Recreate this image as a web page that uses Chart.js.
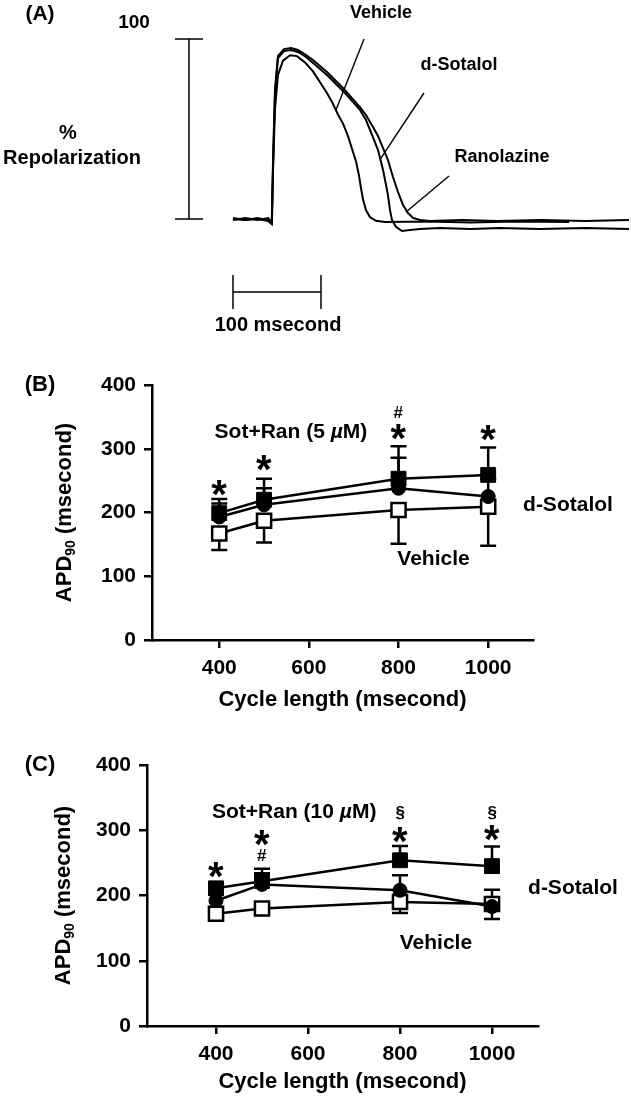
<!DOCTYPE html>
<html>
<head>
<meta charset="utf-8">
<script src="https://cdn.jsdelivr.net/npm/chart.js@4"></script>
<style>
  html, body { margin: 0; padding: 0; background: #fff; }
  #wrap { position: relative; width: 631px; height: 1100px; }
  canvas { position: absolute; left: 0; }
</style>
</head>
<body>
<div id="wrap">
  <canvas id="chart-a" width="631" height="345" style="top:0px;width:631px;height:345px"></canvas>
  <canvas id="chart-b" width="631" height="390" style="top:330px;width:631px;height:390px"></canvas>
  <canvas id="chart-c" width="631" height="380" style="top:720px;width:631px;height:380px"></canvas>
</div>
<script>
const FONT = '"Liberation Sans", Arial, Helvetica, sans-serif';

// (A) action potential traces: time (ms) and % repolarization
let vehicleTime = [0, 14, 28, 40, 44, 45.5, 47.7, 51.1, 56.8, 64.8, 72.7, 81.8, 90.9, 98.9, 106.8, 113.6, 119.3, 125, 130.7, 135.2, 139.8, 143.2, 145.5, 147.7, 151.1, 155.7, 162.5, 172.7, 220, 270, 320, 382];
let vehicleAmp = [0.5, -0.6, 0, -1.1, -2.8, 27, 61, 80, 88, 91, 90.5, 87, 82, 76, 70, 64, 58, 53, 46, 39, 32, 24, 17, 11, 5, 1, -1, -1.7, -1.4, -1.9, -1.4, -1.7];

let sotalolTime = [0, 14, 28, 40, 44, 45.5, 47.7, 51.1, 58, 65.9, 73.9, 83, 90.9, 98.9, 108, 117, 126.1, 135.2, 144.3, 151.1, 158, 164.8, 170.5, 173.9, 176.1, 178.4, 180.7, 185.2, 192, 201.1, 212.5, 235, 270, 303, 349, 400, 450];
let sotalolAmp = [0, -0.6, 0.5, -0.6, -2.2, 30, 69, 89.4, 93.3, 93.9, 92.8, 90, 86.7, 83.3, 79.4, 75, 70.6, 65.6, 60.6, 55, 46.7, 38.3, 27.2, 18.9, 13.3, 5, -0.6, -4.4, -6.7, -6.1, -5.5, -5, -5.5, -5, -5.5, -5, -5.5];

let ranolazineTime = [0, 14, 28, 40, 44.3, 45.5, 47.7, 51.1, 58, 65.9, 73.9, 83, 90.9, 98.9, 108, 117, 126.1, 135.2, 144.3, 151.1, 159.1, 164.8, 170.5, 176.1, 181.8, 187.5, 193.2, 198.9, 204.5, 212.5, 223.9, 260, 300, 350, 400, 450];
let ranolazineAmp = [-0.6, 0.5, -0.6, 0.5, -2.2, 33, 72, 90.6, 94.4, 95, 93.9, 91.1, 88.3, 85, 81.1, 76.7, 72.2, 67.2, 62.2, 57.8, 51.1, 46.1, 39.4, 32.8, 23.3, 15, 7.8, 3.3, 0.6, -0.6, -1.1, -0.6, -1.1, -0.6, -1.1, -0.6];

// (B) and (C) APD90 vs cycle length
let cycleLengths = [400, 500, 800, 1000];
let xTicks = [400, 600, 800, 1000];
let yTicks = [0, 100, 200, 300, 400];

let vehicleB = [167, 187, 204, 209];
let vehicleBErr = [26, 34, 53, 61];
let sotalolB = [193, 212, 238, 225];
let sotalolBErr = [21, 26, 48, 28];
let sotRanB = [199, 220, 253, 259];
let sotRanBErr = [22, 33, 51, 43];

let vehicleC = [172, 180, 190, 187];
let vehicleCErr = [8, 8, 17, 23];
let sotalolC = [192, 217, 208, 183];
let sotalolCErr = [10, 17, 23, 26];
let sotRanC = [211, 222, 254, 245];
let sotRanCErr = [7, 19, 22, 30];

// significance marks: [cycle length, APD90 position, symbol]
let marksB = [[400, 238, '*'], [500, 278, '*'], [800, 326, '*'], [800, 358, '#'], [1000, 324, '*']];
let marksC = [[400, 239, '*'], [500, 288, '*'], [500, 262, '#'], [800, 293, '*'], [800, 326, '§'], [1000, 296, '*'], [1000, 326, '§']];

function setFont(ctx, size, style) {
  ctx.font = (style || '') + ' bold ' + size + 'px ' + FONT;
}

function label(ctx, str, x, y, size) {
  setFont(ctx, size);
  ctx.fillStyle = '#000';
  ctx.textAlign = 'center';
  ctx.textBaseline = 'middle';
  ctx.fillText(str, x, y);
}

// draw a glyph with its ink centred on (x, y)
function glyph(ctx, str, x, y, size) {
  setFont(ctx, size);
  ctx.fillStyle = '#000';
  ctx.textAlign = 'left';
  ctx.textBaseline = 'alphabetic';
  let m = ctx.measureText(str);
  let w = m.actualBoundingBoxLeft + m.actualBoundingBoxRight;
  let h = m.actualBoundingBoxAscent + m.actualBoundingBoxDescent;
  ctx.fillText(str, x - w / 2 + m.actualBoundingBoxLeft, y - h / 2 + m.actualBoundingBoxAscent);
}

// text made of pieces [text, size, italic], centred on (x, y)
function mixed(ctx, parts, x, y) {
  let w = 0;
  parts.forEach(p => { setFont(ctx, p[1], p[2] ? 'italic' : ''); w += ctx.measureText(p[0]).width; });
  let cx = x - w / 2;
  ctx.fillStyle = '#000';
  ctx.textAlign = 'left';
  ctx.textBaseline = 'middle';
  parts.forEach(p => {
    setFont(ctx, p[1], p[2] ? 'italic' : '');
    ctx.fillText(p[0], cx, y);
    cx += ctx.measureText(p[0]).width;
  });
}

function yTitle(ctx, cx, cy) {
  ctx.save();
  ctx.translate(cx, cy);
  ctx.rotate(-Math.PI / 2);
  let parts = [['APD', 22, 0], ['90', 14, 4], [' (msecond)', 22, 0]];
  let w = 0;
  parts.forEach(p => { setFont(ctx, p[1]); w += ctx.measureText(p[0]).width; });
  let x = -w / 2;
  ctx.fillStyle = '#000';
  ctx.textAlign = 'left';
  ctx.textBaseline = 'alphabetic';
  parts.forEach(p => {
    setFont(ctx, p[1]);
    ctx.fillText(p[0], x, 8 + p[2]);
    x += ctx.measureText(p[0]).width;
  });
  ctx.restore();
}

// ---------- (A) traces ----------
let traceLine = (time, amp) => ({
  data: time.map((t, i) => ({x: t, y: amp[i]})),
  borderColor: '#000',
  borderWidth: 2,
  pointRadius: 0,
  tension: 0,
  clip: false,
});

let pointers = [
  [148.9, 100, 117, 60.6],
  [217, 70, 167, 33],
  [245.5, 23.9, 196.6, 3.9],
];

let panelA = {
  id: 'panelA',
  afterDraw(chart) {
    let {ctx, scales: {x, y}} = chart;
    ctx.save();
    ctx.strokeStyle = '#000';
    ctx.lineWidth = 1.5;
    // vertical scale bar: 0 - 100 %
    let bx = x.getPixelForValue(-50);
    let y0 = y.getPixelForValue(0), y1 = y.getPixelForValue(100);
    ctx.beginPath();
    ctx.moveTo(bx, y0); ctx.lineTo(bx, y1);
    ctx.moveTo(bx - 14, y0); ctx.lineTo(bx + 14, y0);
    ctx.moveTo(bx - 14, y1); ctx.lineTo(bx + 14, y1);
    ctx.stroke();
    // horizontal scale bar: 100 ms
    let hy = y.getPixelForValue(-40.6);
    let x0 = x.getPixelForValue(0), x1 = x.getPixelForValue(100);
    ctx.beginPath();
    ctx.moveTo(x0, hy); ctx.lineTo(x1, hy);
    ctx.moveTo(x0, hy - 17); ctx.lineTo(x0, hy + 17);
    ctx.moveTo(x1, hy - 17); ctx.lineTo(x1, hy + 17);
    ctx.stroke();
    // label pointers
    ctx.lineWidth = 1.4;
    pointers.forEach(p => {
      ctx.beginPath();
      ctx.moveTo(x.getPixelForValue(p[0]), y.getPixelForValue(p[1]));
      ctx.lineTo(x.getPixelForValue(p[2]), y.getPixelForValue(p[3]));
      ctx.stroke();
    });
    label(ctx, '(A)', 40, 14, 21);
    label(ctx, '100', 134, 23, 19);
    label(ctx, '%', 68, 133, 20);
    label(ctx, 'Repolarization', 72, 158, 20);
    label(ctx, '100 msecond', 278, 325, 20);
    label(ctx, 'Vehicle', 381, 13, 18);
    label(ctx, 'd-Sotalol', 459, 65, 18);
    label(ctx, 'Ranolazine', 502, 157, 18);
    ctx.restore();
  }
};

new Chart(document.getElementById('chart-a'), {
  type: 'line',
  data: {
    datasets: [
      traceLine(vehicleTime, vehicleAmp),
      traceLine(sotalolTime, sotalolAmp),
      traceLine(ranolazineTime, ranolazineAmp),
    ]
  },
  options: {
    responsive: false,
    animation: false,
    events: [],
    layout: { padding: { left: 233, right: 2, top: 39, bottom: 108 } },
    plugins: { legend: { display: false }, tooltip: { enabled: false } },
    scales: {
      x: { type: 'linear', min: 0, max: 450, display: false },
      y: { type: 'linear', min: -10, max: 100, display: false },
    }
  },
  plugins: [panelA]
});

// ---------- (B), (C) APD90 ----------
function apdChart(id, p) {
  let pts = vals => cycleLengths.map((c, i) => ({x: c, y: vals[i]}));
  let errors = [[p.sotalolErr, 1], [p.sotRanErr, 1], [p.vehicleErr, -1]];

  let extras = {
    id: 'extras',
    beforeDatasetsDraw(chart) {
      let {ctx, scales: {x, y}} = chart;
      ctx.save();
      ctx.strokeStyle = '#000';
      ctx.lineWidth = 2.5;
      chart.data.datasets.forEach((ds, i) => {
        let [err, dir] = errors[i];
        ds.data.forEach((d, j) => {
          let px = x.getPixelForValue(d.x);
          let py0 = y.getPixelForValue(d.y);
          let py1 = y.getPixelForValue(d.y + dir * err[j]);
          ctx.beginPath();
          ctx.moveTo(px, py0); ctx.lineTo(px, py1);
          ctx.moveTo(px - 8, py1); ctx.lineTo(px + 8, py1);
          ctx.stroke();
        });
      });
      ctx.restore();
    },
    afterDraw(chart) {
      let {ctx, chartArea: a, scales: {x, y}} = chart;
      ctx.save();
      p.marks.forEach(m => {
        let size = m[2] === '*' ? 40 : 17;
        glyph(ctx, m[2], x.getPixelForValue(m[0]), y.getPixelForValue(m[1]), size);
      });
      mixed(ctx, [['Sot+Ran (' + p.dose + ' ', 21, false], ['µ', 21, true], ['M)', 21, false]],
        x.getPixelForValue(p.comboAt[0]), y.getPixelForValue(p.comboAt[1]));
      label(ctx, 'd-Sotalol', x.getPixelForValue(p.sotalolAt[0]), y.getPixelForValue(p.sotalolAt[1]), 21);
      label(ctx, 'Vehicle', x.getPixelForValue(p.vehicleAt[0]), y.getPixelForValue(p.vehicleAt[1]), 21);
      label(ctx, 'Cycle length (msecond)', (a.left + a.right) / 2, p.xTitleY, 22);
      yTitle(ctx, p.yTitleX, (a.top + a.bottom) / 2);
      label(ctx, p.tag, 40, a.top, 22);
      ctx.restore();
    }
  };

  let axis = {
    grid: { display: true, drawOnChartArea: false, drawTicks: true, tickLength: 8, tickWidth: 2.5, tickColor: '#000', color: '#000', lineWidth: 2.5 },
    border: { display: true, color: '#000', width: 2.5 },
  };
  let tickFont = { family: FONT, size: 21, weight: 'bold' };

  return new Chart(document.getElementById(id), {
    type: 'line',
    data: {
      datasets: [
        { label: 'd-Sotalol', data: pts(p.sotalol), borderColor: '#000', borderWidth: 2.5, tension: 0,
          pointStyle: 'circle', pointRadius: 7, pointBackgroundColor: '#000', pointBorderColor: '#000', pointBorderWidth: 1 },
        { label: 'Sot+Ran', data: pts(p.sotRan), borderColor: '#000', borderWidth: 2.5, tension: 0,
          pointStyle: 'rect', pointRadius: 10.5, pointBackgroundColor: '#000', pointBorderColor: '#000', pointBorderWidth: 1 },
        { label: 'Vehicle', data: pts(p.vehicle), borderColor: '#000', borderWidth: 2.5, tension: 0,
          pointStyle: 'rect', pointRadius: 10, pointBackgroundColor: '#fff', pointBorderColor: '#000', pointBorderWidth: 2.5 },
      ]
    },
    options: {
      responsive: false,
      animation: false,
      events: [],
      layout: { padding: { left: 0, right: p.padRight, top: p.padTop, bottom: 0 } },
      plugins: { legend: { display: false }, tooltip: { enabled: false } },
      scales: {
        x: Object.assign({
          type: 'linear', min: 250, max: 1100,
          afterBuildTicks: s => { s.ticks = xTicks.map(v => ({value: v})); },
          afterFit: s => { s.height = p.xAxisHeight; },
          ticks: { color: '#000', font: tickFont, padding: 8, maxRotation: 0, callback: v => String(v) },
        }, axis),
        y: Object.assign({
          type: 'linear', min: 0, max: 400,
          afterBuildTicks: s => { s.ticks = yTicks.map(v => ({value: v})); },
          afterFit: s => { s.width = p.yAxisWidth; },
          ticks: { color: '#000', font: tickFont, padding: 8, callback: v => String(v) },
        }, axis),
      }
    },
    plugins: [extras]
  });
}

apdChart('chart-b', {
  tag: '(B)', dose: '5',
  vehicle: vehicleB, vehicleErr: vehicleBErr,
  sotalol: sotalolB, sotalolErr: sotalolBErr,
  sotRan: sotRanB, sotRanErr: sotRanBErr,
  marks: marksB,
  comboAt: [560, 326], sotalolAt: [1178, 212], vehicleAt: [878, 127],
  padTop: 55, padRight: 98, yAxisWidth: 152, xAxisHeight: 80,
  xTitleY: 370, yTitleX: 63,
});

apdChart('chart-c', {
  tag: '(C)', dose: '10',
  vehicle: vehicleC, vehicleErr: vehicleCErr,
  sotalol: sotalolC, sotalolErr: sotalolCErr,
  sotRan: sotRanC, sotRanErr: sotRanCErr,
  marks: marksC,
  comboAt: [570, 328], sotalolAt: [1176, 211], vehicleAt: [878, 127],
  padTop: 45, padRight: 93, yAxisWidth: 147, xAxisHeight: 74,
  xTitleY: 362, yTitleX: 62,
});
</script>
</body>
</html>
